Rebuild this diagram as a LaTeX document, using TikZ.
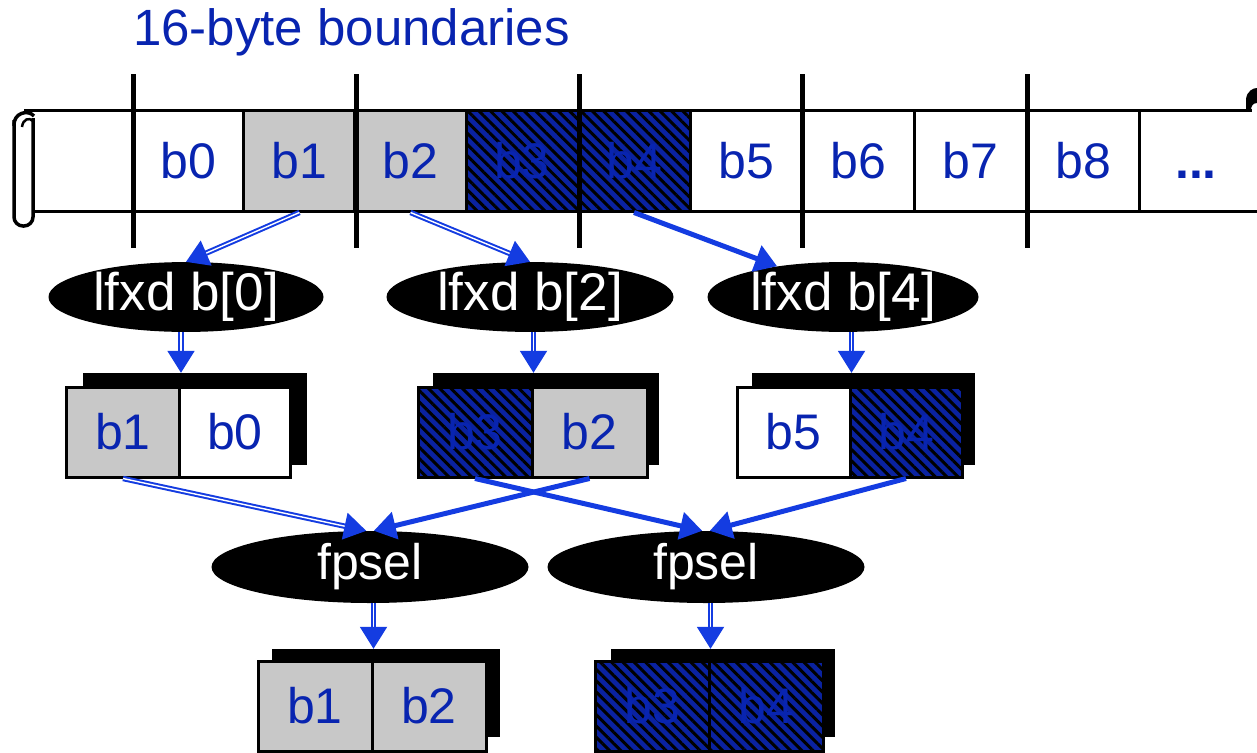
\documentclass[tikz,border=0pt]{standalone}
\usepackage{fontspec}
\setmainfont{Liberation Sans}
\usetikzlibrary{arrows.meta,patterns.meta,shapes.geometric}
\definecolor{txtblue}{RGB}{8,36,176}
\definecolor{arrblue}{RGB}{20,60,225}
\definecolor{hatchblue}{RGB}{10,34,160}
\definecolor{cellgray}{RGB}{200,200,200}
\newcommand{\cellfont}{\fontsize{50}{50}\selectfont}
\newcommand{\loadfont}{\fontsize{53}{53}\selectfont}
\begin{document}
\begin{tikzpicture}[x=1pt,y=-1pt,
  cell/.style={draw=black, line width=3pt, inner sep=0pt, text=txtblue,
    font=\cellfont, minimum width=112pt, minimum height=101pt},
  smallcell/.style={cell, minimum height=90pt},
  wcell/.style={fill=white},
  gcell/.style={fill=cellgray},
  hcell/.style={fill=hatchblue,
    postaction={pattern={Lines[angle=-45,distance=8pt,line width=3pt]},
                pattern color=black}},
  backbox/.style={fill=black, inner sep=0pt},
  op/.style={ellipse, fill=black, inner sep=0pt, text=white, font=\cellfont,
    minimum height=66pt},
  arr/.style={draw=arrblue, line width=5pt,
    -{Triangle[length=22pt,width=27pt]}},
  hollow/.style={draw=arrblue, line width=2pt, double=white,
    double distance=1.4pt, -{Triangle[length=22pt,width=27pt]}},
  bound/.style={line width=5pt, draw=black},
]
\useasboundingbox (0,0) rectangle (1257,752);

% heading
\node[anchor=base west, inner sep=0pt, text=txtblue,
  font=\fontsize{51}{51}\selectfont] (title) at (133,46) {16-byte boundaries};

% the scroll of memory
\draw[line width=3pt] (24,110) -- (1252,110);
\draw[line width=3pt] (33,211) -- (1257,211);
\draw[line width=3.5pt, rounded corners=9pt] (14,120) -- (14,226) -- (33,226) -- (33,118);
\draw[line width=3.5pt] (14,126) .. controls (13,113) and (28,109) .. (34,116);
\draw[line width=2.5pt] (22,127) .. controls (23,119) and (29,117) .. (33,121);
\fill (1246,110) -- (1246,99) .. controls (1247,91) and (1253,88) .. (1257,88)
  -- (1257,103) .. controls (1253,103) and (1251,106) .. (1251,110) -- cycle;

\node[cell, wcell] (c0) at (188.5,160.5) {b0};
\node[cell, gcell] (c1) at (299.5,160.5) {b1};
\node[cell, gcell] (c2) at (410.5,160.5) {b2};
\node[cell, hcell] (c3) at (522,160.5) {b3};
\node[cell, hcell] (c4) at (634,160.5) {b4};
\node[cell, wcell] (c5) at (746,160.5) {b5};
\node[cell, wcell] (c6) at (858,160.5) {b6};
\node[cell, wcell] (c7) at (970,160.5) {b7};
\node[cell, wcell] (c8) at (1083,160.5) {b8};
\node[inner sep=0pt, text=txtblue, font=\cellfont\bfseries] (cdots) at (1196,160.5) {\vphantom{b}...};

% 16-byte boundary marks
\foreach \bx in {133,356,579,802,1027}
  \draw[bound] (\bx,74) -- (\bx,248);

% loads
\node[op, font=\loadfont, minimum width=275pt] (l0) at (186,297) {lfxd b[0]};
\node[op, font=\loadfont, minimum width=287pt] (l2) at (530,297) {lfxd b[2]};
\node[op, font=\loadfont, minimum width=271pt] (l4) at (843,297) {lfxd b[4]};

\draw[hollow] (c1.south) -- (l0.north);
\draw[hollow] (c2.south) -- (l2.north);
\draw[arr] (c4.south) -- (l4.155);

% loaded register pairs
\node[backbox, minimum width=224pt, minimum height=92pt] (s1) at (195,419) {};
\node[smallcell, gcell, minimum width=113pt] (r1a) at (123,432) {b1};
\node[smallcell, wcell, minimum width=111pt] (r1b) at (235,432) {b0};

\node[backbox, minimum width=226pt, minimum height=92pt] (s2) at (546,419) {};
\node[smallcell, hcell, minimum width=114pt] (r2a) at (475,432) {b3};
\node[smallcell, gcell, minimum width=115pt] (r2b) at (589.5,432) {b2};

\node[backbox, minimum width=223pt, minimum height=92pt] (s3) at (863.5,419) {};
\node[smallcell, wcell, minimum width=113pt] (r3a) at (793.5,432) {b5};
\node[smallcell, hcell, minimum width=112pt] (r3b) at (906,432) {b4};

\draw[hollow] (l0.south -| r1a.east) -- (s1.north -| r1a.east);
\draw[hollow] (l2.south -| r2a.east) -- (s2.north -| r2a.east);
\draw[hollow] (l4.south -| r3a.east) -- (s3.north -| r3a.east);

% selects
\node[op, minimum width=317pt, minimum height=72pt] (f1) at (370,567) {fpsel};
\node[op, minimum width=317pt, minimum height=72pt] (f2) at (706,567) {fpsel};

\draw[hollow] (r1a.south) -- (f1.96);
\draw[arr] (r2b.south) -- (f1.84);
\draw[arr] (r2a.south) -- (f2.96);
\draw[arr] (r3b.south) -- (f2.84);

% results
\node[backbox, minimum width=228pt, minimum height=88pt] (t1) at (386,693) {};
\node[smallcell, gcell, minimum width=114pt] (q1a) at (315,706) {b1};
\node[smallcell, gcell, minimum width=114pt] (q1b) at (429,706) {b2};

\node[backbox, minimum width=224pt, minimum height=88pt] (t2) at (723,693) {};
\node[smallcell, hcell, minimum width=114pt] (q2a) at (652,706) {b3};
\node[smallcell, hcell, minimum width=114pt] (q2b) at (766,706) {b4};

\draw[hollow] (f1.south -| q1a.east) -- (t1.north -| q1a.east);
\draw[hollow] (f2.south -| q2a.east) -- (t2.north -| q2a.east);
\end{tikzpicture}
\end{document}
